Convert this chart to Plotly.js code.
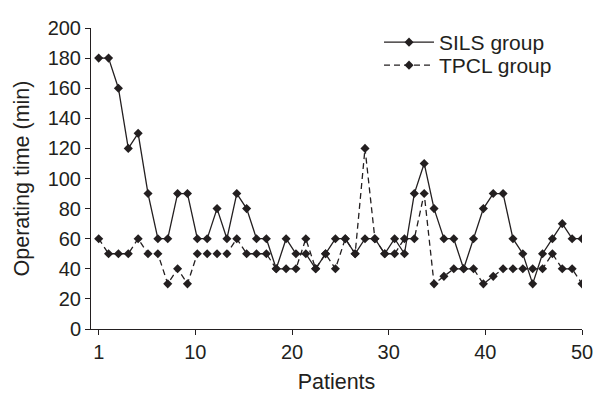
<!DOCTYPE html>
<html>
<head>
<meta charset="utf-8">
<script src="https://cdn.plot.ly/plotly-3.0.1.min.js"></script>
<style>
  html, body { margin: 0; padding: 0; background: #fff; }
  #chart { width: 596px; height: 394px; }
</style>
</head>
<body>
<div id="chart"></div>
<script>
// Patients 1..50
const patients = [1,2,3,4,5,6,7,8,9,10,11,12,13,14,15,16,17,18,19,20,21,22,23,24,25,26,27,28,29,30,31,32,33,34,35,36,37,38,39,40,41,42,43,44,45,46,47,48,49,50];

// Operating time (min)
const silsGroup = [180,180,160,120,130,90,60,60,90,90,60,60,80,60,90,80,60,60,40,60,50,50,40,50,60,60,50,60,60,50,60,50,90,110,80,60,60,40,60,80,90,90,60,50,30,50,60,70,60,60];
const tpclGroup = [60,50,50,50,60,50,50,30,40,30,50,50,50,50,60,50,50,50,40,40,40,60,40,50,40,60,50,120,60,50,50,60,60,90,30,35,40,40,40,30,35,40,40,40,40,40,50,40,40,30];

const seriesNames = ["SILS group", "TPCL group"];
const xTickLabels = [1, 10, 20, 30, 40, 50];
const yTickLabels = [0, 20, 40, 60, 80, 100, 120, 140, 160, 180, 200];

// The original axis spaces its tick marks as 0..50 stretched over patients 1..50
const firstP = patients[0], lastP = patients[patients.length - 1];
const xTickVals = xTickLabels.map(function (t, i) {
  const base = (i === 0) ? 0 : t;
  return firstP + base * (lastP - firstP) / lastP;
});

const ink = '#231f20';
const family = 'Liberation Sans, Arial, Helvetica, sans-serif';
const font = { family: family, size: 20, color: ink };
const titleFont = { family: family, size: 21.5, color: ink };
const legendFont = { family: family, size: 21, color: ink };

const traces = [
  {
    x: patients, y: silsGroup, name: seriesNames[0], type: 'scatter', mode: 'lines+markers',
    legend: 'legend',
    line: { color: ink, width: 1.3 },
    marker: { symbol: 'diamond', size: 7, color: ink }
  },
  {
    x: patients, y: tpclGroup, name: seriesNames[1], type: 'scatter', mode: 'lines+markers',
    legend: 'legend2',
    line: { color: ink, width: 1.3, dash: '6px,4px' },
    marker: { symbol: 'diamond', size: 7, color: ink }
  }
];

const legendBase = {
  xanchor: 'left', yanchor: 'top',
  bgcolor: 'rgba(0,0,0,0)', font: legendFont,
  itemwidth: 50
};

const layout = {
  width: 596, height: 394,
  margin: { l: 91, r: 14, t: 28, b: 65 },
  paper_bgcolor: '#fff', plot_bgcolor: '#fff',
  font: font,
  showlegend: true,
  legend: Object.assign({}, legendBase, { x: 0.5866, y: 1.02 }),
  legend2: Object.assign({}, legendBase, { x: 0.5866, y: 0.9435 }),
  xaxis: {
    range: [0.22, 50],
    tickmode: 'array', tickvals: xTickVals, ticktext: xTickLabels.map(String),
    showline: true, linecolor: ink, linewidth: 1,
    ticks: 'outside', ticklen: 5, tickcolor: ink, tickwidth: 1,
    showgrid: false, zeroline: false,
    tickfont: font,
    title: { text: 'Patients', font: titleFont, standoff: 12 }
  },
  yaxis: {
    range: [0, 200],
    tickmode: 'array', tickvals: yTickLabels, ticktext: yTickLabels.map(String),
    showline: true, linecolor: ink, linewidth: 1,
    ticks: 'outside', ticklen: 5, tickcolor: ink, tickwidth: 1,
    showgrid: false, zeroline: false,
    tickfont: font,
    title: { text: 'Operating time (min)\u00a0\u00a0', font: titleFont, standoff: 12 }
  }
};

Plotly.newPlot('chart', traces, layout, { displayModeBar: false, staticPlot: true });
</script>
</body>
</html>
